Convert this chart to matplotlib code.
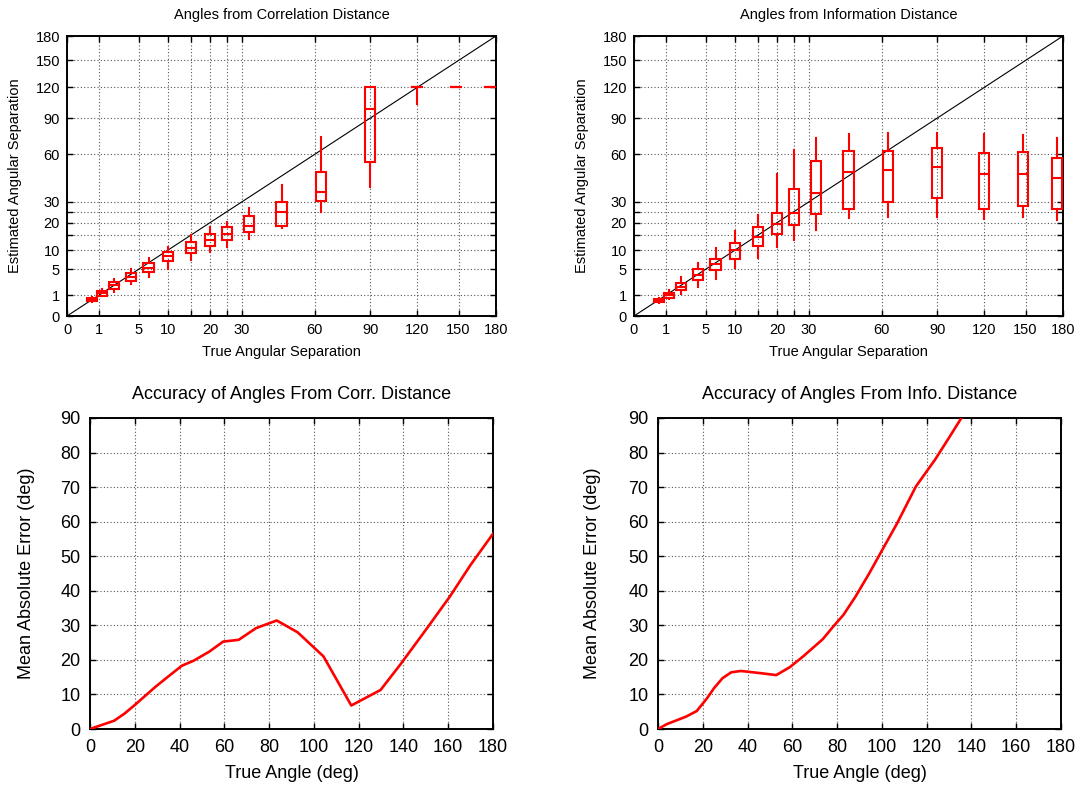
import numpy as np
import matplotlib
matplotlib.use("Agg")
import matplotlib.pyplot as plt

plt.rcParams['font.family'] = ['Liberation Sans', 'DejaVu Sans']

# ---------------- data ----------------
true_angles = [0.6, 1.2, 2.2, 4, 6.5, 10, 15, 20, 25, 32.5, 45, 63, 90, 120, 148, 175]

corr_whislo = [0.45, 0.90, 1.37, 2.37, 3.41, 5.05, 7.2, 9.3, 11.0, 13.7, 17.9, 25.0, 38.4, 103, 120, 120]
corr_q1     = [0.52, 0.96, 1.69, 2.89, 4.42, 6.93, 9.2, 11.4, 13.3, 16.2, 18.8, 30.4, 54.7, 120, 120, 120]
corr_med    = [0.62, 1.20, 2.18, 3.47, 5.27, 8.35, 10.6, 13.4, 15.6, 18.5, 24.8, 35.5, 98.1, 120, 120, 120]
corr_q3     = [0.72, 1.40, 2.58, 4.22, 6.43, 9.30, 12.5, 15.3, 18.1, 22.9, 30.0, 47.6, 120, 120, 120, 120]
corr_whishi = [0.82, 1.65, 3.12, 5.05, 7.80, 10.9, 15.0, 18.0, 20.2, 26.8, 39.5, 73.4, 120, 120, 120, 120]

info_whislo = [0.40, 0.69, 1.15, 1.98, 3.21, 5.38, 7.84, 10.8, 13.3, 17.0, 22.0, 22.3, 22.3, 21.5, 22.3, 21.2]
info_q1     = [0.45, 0.77, 1.52, 2.99, 4.88, 7.49, 11.4, 15.5, 18.9, 24.1, 26.5, 30.1, 32.1, 26.5, 28.0, 26.4]
info_med    = [0.55, 0.98, 1.89, 3.94, 6.15, 9.94, 14.5, 19.4, 24.3, 34.5, 47.3, 49.1, 51.2, 46.0, 46.2, 43.7]
info_q3     = [0.65, 1.18, 2.51, 5.16, 7.57, 12.2, 18.0, 24.4, 37.0, 54.9, 62.2, 62.5, 64.5, 61.2, 62.0, 57.5]
info_whishi = [0.72, 1.60, 3.50, 6.47, 10.5, 16.6, 23.5, 46.0, 63.0, 72.5, 75.8, 76.6, 76.6, 76.0, 75.5, 72.5]

corr_err_x = [0, 10.8, 15.5, 20.1, 29.4, 34, 41, 46.4, 53.3, 59.5, 66.4, 74.2, 83.4, 92.7,
              104.3, 116.7, 129.8, 139, 150, 160.7, 170, 180]
corr_err_y = [0, 2.4, 4.5, 7.0, 12.3, 14.7, 18.3, 19.8, 22.4, 25.3, 25.8, 29.2, 31.4, 28.0,
              21.0, 6.8, 11.3, 19.0, 28.7, 38.3, 47.5, 56.5]

info_err_x = [0, 3.9, 12.6, 17.3, 21.9, 25, 28.8, 32.7, 37, 46.6, 52.8, 58.9, 65, 73.6, 78.2,
              82.8, 88.2, 94.4, 99.8, 106.7, 115.2, 123.7, 129.9, 135.5]
info_err_y = [0, 1.4, 3.6, 5.2, 8.9, 11.8, 14.7, 16.4, 16.8, 16.1, 15.6, 17.9, 21.1, 26.0, 29.6,
              33.0, 38.3, 45.1, 51.4, 59.4, 70.2, 77.9, 84.2, 90.0]

sqrt_ticks = [0, 1, 5, 10, 15, 20, 25, 30, 60, 90, 120, 150, 180]
sqrt_labels = ['0', '1', '5', '10', '', '20', '', '30', '60', '90', '120', '150', '180']

W, H = 1079, 790
fig = plt.figure(figsize=(W / 100, H / 100), dpi=100)

def make_ax(l, r, t, b):
    return fig.add_axes([l / W, 1 - b / H, (r - l) / W, (b - t) / H])

grid_kw = dict(color='#555555', linestyle=(0, (1, 2)), linewidth=0.8)
RED = '#ff0000'

def style_common(ax, fs, pad):
    ax.tick_params(direction='in', length=4, width=1.0, top=True, right=True,
                   labelsize=fs, pad=pad, which='major')
    ax.tick_params(which='minor', length=0)
    for s in ax.spines.values():
        s.set_linewidth(1.4)
    ax.grid(True, **grid_kw)
    ax.set_axisbelow(True)

def box_panel(ax, title, wl, q1, med, q3, wh):
    fwd = lambda v: np.sqrt(np.clip(v, 0, None))
    inv = lambda v: np.square(v)
    ax.set_xscale('function', functions=(fwd, inv))
    ax.set_yscale('function', functions=(fwd, inv))
    ax.set_xlim(0, 180)
    ax.set_ylim(0, 180)
    ax.set_xticks(sqrt_ticks)
    ax.set_xticklabels(sqrt_labels)
    ax.set_yticks(sqrt_ticks)
    ax.set_yticklabels(sqrt_labels)
    style_common(ax, 10.5, 5)
    ax.plot([0, 180], [0, 180], color='black', linewidth=0.8, zorder=3)
    hw = 0.158  # half box width in sqrt units
    for x, a, b, m, c, d in zip(true_angles, wl, q1, med, q3, wh):
        u = np.sqrt(x)
        xl, xr = (u - hw) ** 2, (u + hw) ** 2
        ax.plot([xl, xr, xr, xl, xl], [b, b, c, c, b], color=RED, lw=1.5, zorder=4,
                solid_joinstyle='miter')
        ax.plot([xl, xr], [m, m], color=RED, lw=1.5, zorder=4)
        ax.plot([x, x], [c, d], color=RED, lw=1.5, zorder=4)
        ax.plot([x, x], [a, b], color=RED, lw=1.5, zorder=4)
    ax.set_title(title, fontsize=10.5, pad=12)
    ax.set_xlabel('True Angular Separation', fontsize=10.5)
    ax.set_ylabel('Estimated Angular Separation', fontsize=10.5)
    ax.xaxis.set_label_coords(0.5, -0.105)
    ax.yaxis.set_label_coords(-0.106, 0.5)

def err_panel(ax, title, xs, ys, ylab_x):
    ax.set_xlim(0, 180)
    ax.set_ylim(0, 90)
    ax.set_xticks(np.arange(0, 181, 20))
    ax.set_yticks(np.arange(0, 91, 10))
    style_common(ax, 13, 7)
    ax.plot(xs, ys, color=RED, lw=1.9, zorder=4, clip_on=True)
    ax.set_title(title, fontsize=13, pad=14)
    ax.set_xlabel('True Angle (deg)', fontsize=13)
    ax.set_ylabel('Mean Absolute Error (deg)', fontsize=13)
    ax.xaxis.set_label_coords(0.5, -0.115)
    ax.yaxis.set_label_coords(ylab_x, 0.5)

ax1 = make_ax(67, 496, 36, 316)
box_panel(ax1, 'Angles from Correlation Distance',
          corr_whislo, corr_q1, corr_med, corr_q3, corr_whishi)
ax2 = make_ax(634, 1063, 36, 316)
box_panel(ax2, 'Angles from Information Distance',
          info_whislo, info_q1, info_med, info_q3, info_whishi)
ax3 = make_ax(90, 493, 418, 729)
err_panel(ax3, 'Accuracy of Angles From Corr. Distance', corr_err_x, corr_err_y, -0.136)
ax4 = make_ax(658, 1061, 418, 729)
err_panel(ax4, 'Accuracy of Angles From Info. Distance', info_err_x, info_err_y, -0.141)

fig.savefig('out.png', dpi=100)
